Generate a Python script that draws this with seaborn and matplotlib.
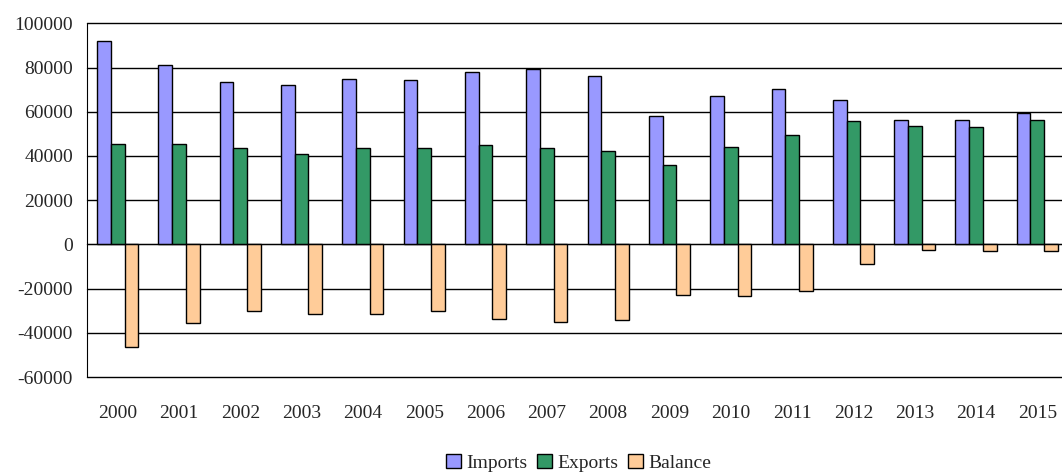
import numpy as np
import pandas as pd
import seaborn as sns
import matplotlib.pyplot as plt

years = [str(y) for y in range(2000, 2016)]
imports = [92100, 81300, 73600, 72200, 74800, 74200, 78100, 79300,
           76200, 58200, 67100, 70400, 65300, 56200, 56200, 59400]
exports = [45400, 45400, 43600, 41000, 43600, 43600, 44800, 43600,
           42200, 35900, 44200, 49300, 55700, 53700, 53100, 56200]
balance = [-46400, -35400, -30300, -31700, -31700, -30300, -33600, -35200,
           -34100, -22700, -23200, -21200, -9000, -2600, -3200, -3200]

series = ["Imports", "Exports", "Balance"]
colors = ["#9999FF", "#339966", "#FFCC99"]
yticks = list(range(-60000, 100001, 20000))

df = pd.DataFrame({
    "year": years * 3,
    "value": imports + exports + balance,
    "series": [s for s in series for _ in years],
})

sns.set_style("white")
plt.rcParams["font.family"] = ["Liberation Serif", "DejaVu Serif"]
plt.rcParams["font.size"] = 14

fig = plt.figure(figsize=(10.62, 4.73), dpi=100)
ax = fig.add_axes([87 / 1062, 1 - 377 / 473, 981 / 1062, (377 - 23.3) / 473])

sns.barplot(data=df, x="year", y="value", hue="series", order=years,
            hue_order=series, palette=colors, saturation=1, width=0.67,
            edgecolor="black", linewidth=1, ax=ax, legend=True)

ax.set_ylim(-60000, 100000)
ax.set_xlim(-0.5, len(years) - 0.5)
ax.set_yticks(yticks)
ax.set_yticklabels([str(v) for v in yticks])
ax.tick_params(axis="y", length=7, width=1, color="black", direction="out", pad=3)
ax.yaxis.grid(True, color="black", linewidth=1)
ax.set_axisbelow(True)
for gl in ax.get_ygridlines():
    gl.set_clip_on(False)
ax.set_xlabel("")
ax.set_ylabel("")

# category axis sits on zero, with ticks between categories
for s in ["top", "right"]:
    ax.spines[s].set_visible(False)
ax.spines["left"].set_color("black")
ax.spines["bottom"].set_position(("data", 0))
ax.spines["bottom"].set_color("black")
ax.set_xticks(range(len(years)))
ax.set_xticklabels([])
ax.set_xticks(np.arange(len(years)) + 0.5, minor=True)
ax.tick_params(axis="x", which="major", length=0)
ax.tick_params(axis="x", which="minor", length=6, width=1, color="black", direction="out")

sec = ax.secondary_xaxis("bottom")
sec.set_xticks(range(len(years)))
sec.set_xticklabels(years)
sec.tick_params(length=0, pad=20)
sec.spines["bottom"].set_visible(False)

handles, labels = ax.get_legend_handles_labels()
ax.get_legend().remove()
fig.legend(handles, labels, loc="center", bbox_to_anchor=(0.545, 0.022),
           ncol=3, frameon=False, handlelength=0.75, handleheight=0.75,
           handletextpad=0.3, columnspacing=0.5, borderpad=0)

fig.savefig("out.png", dpi=100)
